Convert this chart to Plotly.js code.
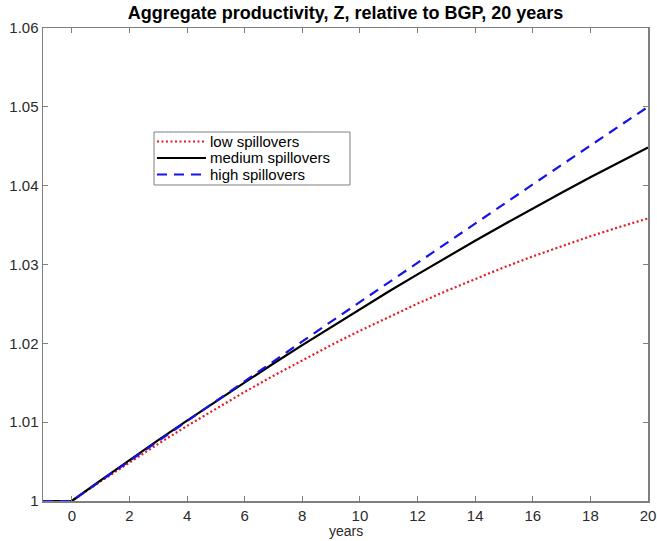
<!DOCTYPE html>
<html>
<head>
<meta charset="utf-8">
<script src="https://cdn.plot.ly/plotly-3.0.1.min.js"></script>
<style>html,body{margin:0;padding:0;background:#fff;}#chart{width:657px;height:541px;}</style>
</head>
<body>
<div id="chart"></div>
<script>
const years = [-1,0,1,2,3,4,5,6,7,8,9,10,11,12,13,14,15,16,17,18,19,20];
const lowSpill = [1,1,1.00249,1.00491,1.00725,1.00952,1.01172,1.01384,1.01589,1.01787,1.01977,1.02160,1.02336,1.02504,1.02665,1.02818,1.02964,1.03103,1.03234,1.03358,1.03475,1.03584];
const mediumSpill = [1,1,1.00261,1.00518,1.00771,1.01020,1.01265,1.01507,1.01744,1.01978,1.02208,1.02434,1.02657,1.02875,1.03090,1.03301,1.03508,1.03711,1.03910,1.04106,1.04297,1.04485];
const highSpill = [1,1,1.00255,1.00509,1.00763,1.01016,1.01269,1.01521,1.01773,1.02024,1.02275,1.02525,1.02775,1.03024,1.03273,1.03521,1.03769,1.04016,1.04263,1.04509,1.04755,1.05000];
const seriesNames = ["low spillovers","medium spillovers","high spillovers"];
const xTicks = [0,2,4,6,8,10,12,14,16,18,20];
const yTicks = [1,1.01,1.02,1.03,1.04,1.05,1.06];
const yTickText = ["1","1.01","1.02","1.03","1.04","1.05","1.06"];
const xLabel = "years";

const font = "Liberation Sans, Arial, Helvetica, sans-serif";
const styles = [
  {color: "#e51a24", width: 2.2, dash: "2px,2.5px"},
  {color: "#000000", width: 2.2, dash: "solid"},
  {color: "#1414e6", width: 2.2, dash: "10px,7px"}
];
const seriesY = [lowSpill, mediumSpill, highSpill];
const traces = seriesY.map((ys, i) => ({x: years, y: ys, name: seriesNames[i], mode: "lines", line: styles[i], showlegend: false}));

// custom MATLAB-like legend box (paper coordinates)
const legRowsY = [0.7600, 0.7252, 0.6903];
const shapes = [{type: "rect", xref: "paper", yref: "paper", x0: 0.1835, x1: 0.5074, y0: 0.6681, y1: 0.7801,
  line: {color: "#7f7f7f", width: 1}, fillcolor: "#ffffff", layer: "above"}];
const annotations = [];
seriesNames.forEach((n, i) => {
  shapes.push({type: "line", xref: "paper", yref: "paper", x0: 0.1884, x1: 0.2694, y0: legRowsY[i], y1: legRowsY[i],
    line: {color: styles[i].color, width: styles[i].width, dash: styles[i].dash}, layer: "above"});
  annotations.push({xref: "paper", yref: "paper", x: 0.2744, y: legRowsY[i], xanchor: "left", yanchor: "middle",
    text: n, showarrow: false, borderpad: 0, font: {family: font, size: 15, color: "#000"}});
});
// x-axis label placed just under the tick labels
annotations.push({xref: "paper", yref: "paper", x: 0.5, y: -0.0835, xanchor: "center", yanchor: "bottom",
  text: xLabel, showarrow: false, borderpad: 0, font: {family: font, size: 14, color: "#2a2a2a"}});

const axisCommon = {
  showgrid: false, zeroline: false, showline: true, linecolor: "#7f7f7f", linewidth: 1.5,
  mirror: "ticks", ticks: "inside", ticklen: 5, tickcolor: "#7f7f7f", tickwidth: 1,
  tickfont: {family: font, size: 15, color: "#2a2a2a"}
};
const layout = {
  width: 657, height: 541,
  margin: {l: 43, r: 9, t: 28, b: 40},
  paper_bgcolor: "#ffffff", plot_bgcolor: "#ffffff",
  title: {text: "<b>Aggregate productivity, Z, relative to BGP, 20 years</b>", font: {family: font, size: 18, color: "#000"}, x: 0.5, xref: "paper", y: 0.976, yref: "container", yanchor: "middle"},
  xaxis: Object.assign({}, axisCommon, {range: [-1, 20], tickvals: xTicks}),
  yaxis: Object.assign({}, axisCommon, {range: [1, 1.06], tickvals: yTicks, ticktext: yTickText}),
  showlegend: false,
  shapes: shapes,
  annotations: annotations
};
Plotly.newPlot("chart", traces, layout, {displayModeBar: false, staticPlot: true});
</script>
</body>
</html>
